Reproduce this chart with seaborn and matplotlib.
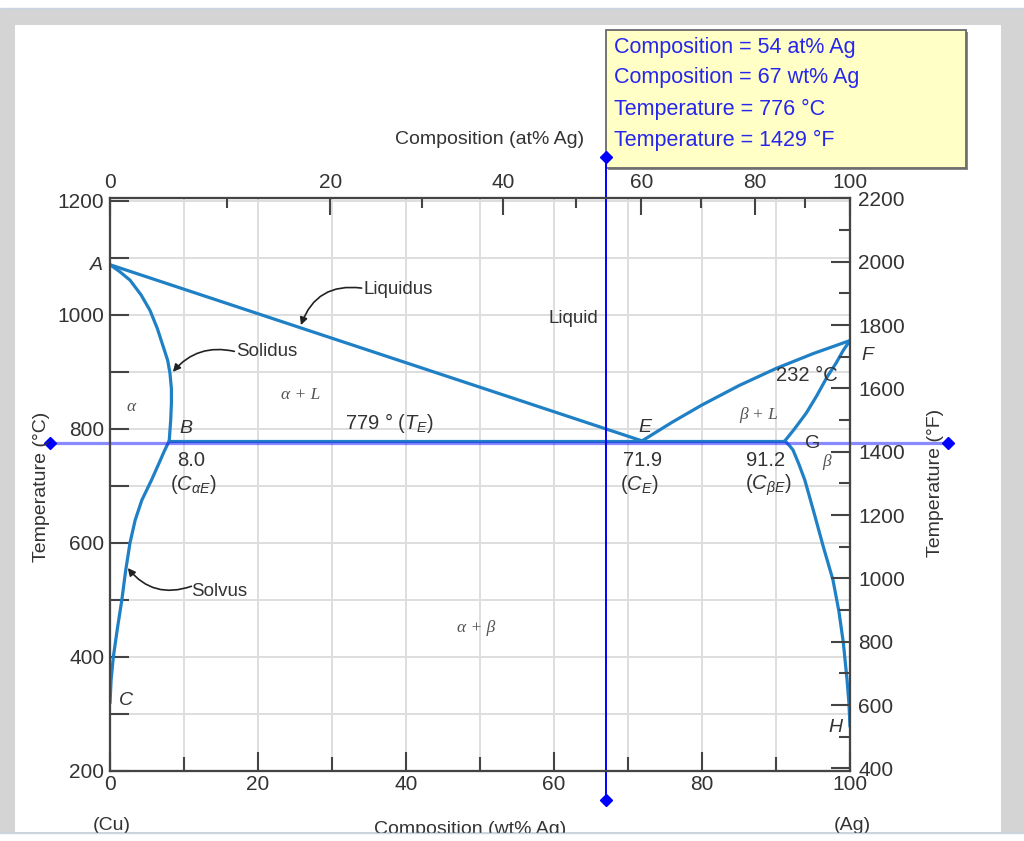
import matplotlib
matplotlib.use("Agg")
import matplotlib.pyplot as plt
import numpy as np
import seaborn as sns
from matplotlib.patches import Rectangle
from matplotlib.lines import Line2D

# ---------------- data (wt% Ag, temperature in °C) ----------------
liquidus_alpha_wt = [0.0, 71.9]
liquidus_alpha_T = [1088, 779]
liquidus_beta_wt = [71.9, 76.0, 80.0, 85.0, 90.0, 95.0, 100.0]
liquidus_beta_T = [779, 812, 842, 876, 906, 932, 955]
solidus_alpha_wt = [0.0, 1.3, 2.7, 4.2, 5.4, 6.4, 7.2, 7.8, 8.1, 8.3, 8.3, 8.2, 8.0]
solidus_alpha_T = [1088, 1076, 1061, 1035, 1008, 976, 944, 920, 898, 870, 845, 815, 779]
solvus_alpha_wt = [8.0, 7.3, 6.8, 5.6, 4.3, 3.4, 2.7, 2.1, 1.6, 1.0, 0.45, 0.15, 0.0]
solvus_alpha_T = [779, 760, 745, 710, 675, 640, 600, 550, 500, 450, 400, 360, 319]
solidus_beta_wt = [91.2, 92.5, 94.1, 95.5, 96.9, 98.1, 99.1, 100.0]
solidus_beta_T = [779, 800, 828, 858, 891, 915, 938, 955]
solvus_beta_wt = [91.2, 91.8, 92.3, 93.1, 93.9, 95.2, 96.4, 97.7, 98.5, 99.1, 99.6, 99.85, 100.0]
solvus_beta_T = [779, 771, 763, 738, 710, 650, 593, 535, 480, 425, 360, 320, 278]
eutectic_wt = [8.0, 91.2]
eutectic_T = [779, 779]

# cursor read-out
cursor_at = 54
cursor_wt = 67
cursor_TC = 776
cursor_TF = 1429

# tick labels
wt_major = [0, 20, 40, 60, 80, 100]
wt_minor = [10, 30, 50, 70, 90]
at_major = [0, 20, 40, 60, 80, 100]
at_minor = [10, 30, 50, 70, 90]
C_major = [200, 400, 600, 800, 1000, 1200]
C_minor = [300, 500, 700, 900, 1100]
F_major = [400, 600, 800, 1000, 1200, 1400, 1600, 1800, 2000, 2200]
F_minor = [500, 700, 900, 1100, 1300, 1500, 1700, 1900, 2100]

M_CU, M_AG = 63.55, 107.87


def at_to_wt(a):
    a = np.asarray(a, dtype=float)
    return 100 * a * M_AG / (a * M_AG + (100 - a) * M_CU)


# ---------------- style ----------------
W, H = 1024, 841
def fx(px): return px / W
def fy(py): return 1 - py / H

sns.set_theme(style="white")
plt.rcParams['font.family'] = ['Liberation Sans', 'DejaVu Sans']
plt.rcParams['mathtext.fontset'] = 'custom'
plt.rcParams['mathtext.rm'] = 'Liberation Sans'
plt.rcParams['mathtext.it'] = 'Liberation Sans:italic'

LINE = "#1f80c6"
TXT = "#333333"
AX = "#444444"
GREEK = dict(family=['Liberation Serif', 'DejaVu Serif'], style='italic', color='#555555', fontsize=12.5)

fig = plt.figure(figsize=(W / 100, H / 100), dpi=100, facecolor='#d4d4d4')
# page background
fig.add_artist(Rectangle((fx(15), fy(832)), fx(1001) - fx(15), fy(25) - fy(832),
                         transform=fig.transFigure, facecolor='white', edgecolor='none', zorder=-10))
fig.add_artist(Rectangle((0, fy(7.5)), 1, 7.5 / H, transform=fig.transFigure,
                         facecolor='white', edgecolor='none', zorder=-10))
fig.add_artist(Line2D([0, 1], [fy(7.5)] * 2, transform=fig.transFigure, color='#c8d6e4', lw=1, zorder=-9))
fig.add_artist(Rectangle((0, 0), 1, fy(832.5), transform=fig.transFigure,
                         facecolor='white', edgecolor='none', zorder=20))
fig.add_artist(Line2D([0, 1], [fy(832.5)] * 2, transform=fig.transFigure, color='#c8d6e4', lw=1, zorder=21))

# ---------------- main axes ----------------
ax = fig.add_axes([fx(110), fy(771), fx(850) - fx(110), fy(198) - fy(771)])
ax.set_facecolor('white')
T_lo, T_hi = 200, 1205

curves = [
    (liquidus_alpha_wt, liquidus_alpha_T),
    (liquidus_beta_wt, liquidus_beta_T),
    (solidus_alpha_wt, solidus_alpha_T),
    (solvus_alpha_wt, solvus_alpha_T),
    (solidus_beta_wt, solidus_beta_T),
    (solvus_beta_wt, solvus_beta_T),
    (eutectic_wt, eutectic_T),
]
for wts, Ts in curves:
    sns.lineplot(x=wts, y=Ts, ax=ax, sort=False, estimator=None, color=LINE,
                 linewidth=2.3, solid_capstyle='round', solid_joinstyle='round', zorder=4)

ax.set_xlim(0, 100)
ax.set_ylim(T_lo, T_hi)
ax.set_xlabel('')
ax.set_ylabel('')
ax.set_xticks(wt_major, labels=[str(v) for v in wt_major])
ax.set_xticks(wt_minor, minor=True)
ax.set_yticks(C_major, labels=[str(v) for v in C_major])
ax.set_yticks(C_minor, minor=True)
ax.grid(True, which='both', color='#dedede', lw=1.4)
ax.set_axisbelow(True)
ax.tick_params(axis='x', which='major', direction='in', length=14, width=1.5, color=AX,
               pad=3, labelsize=15, labelcolor=TXT, bottom=True, top=False)
ax.tick_params(axis='x', which='minor', direction='in', length=10, width=1.5, color=AX,
               bottom=True, top=False)
ax.tick_params(axis='y', which='both', direction='in', length=14, width=1.5, color=AX,
               pad=4, labelsize=15, labelcolor=TXT, left=True, right=False)
for sp in ax.spines.values():
    sp.set_color(AX)
    sp.set_linewidth(1.5)

# top axis: at% Ag
axt = ax.twiny()
axt.set_xlim(0, 100)
axt.set_xticks(at_to_wt(at_major), labels=[str(v) for v in at_major])
axt.set_xticks(at_to_wt(at_minor), minor=True)
axt.tick_params(axis='x', which='major', direction='in', length=12, width=1.5, color=AX,
                pad=4, labelsize=15, labelcolor=TXT, top=True, bottom=False)
axt.tick_params(axis='x', which='minor', direction='in', length=7.5, width=1.5, color=AX,
                top=True, bottom=False)
axt.grid(False)
for sp in axt.spines.values():
    sp.set_color(AX)
    sp.set_linewidth(1.5)

# right axis: °F
axr = ax.twinx()
axr.set_ylim(T_lo * 9 / 5 + 32, T_hi * 9 / 5 + 32)
axr.set_yticks(F_major, labels=[str(v) for v in F_major])
axr.set_yticks(F_minor, minor=True)
axr.tick_params(axis='y', which='major', direction='in', length=14, width=1.5, color=AX,
                pad=6, labelsize=15, labelcolor=TXT, right=True, left=False)
axr.tick_params(axis='y', which='minor', direction='in', length=8, width=1.5, color=AX,
                right=True, left=False)
axr.grid(False)
for sp in axr.spines.values():
    sp.set_color(AX)
    sp.set_linewidth(1.5)

# ---------------- cursor ----------------
def px_to_w(px): return (px - 110) / 7.4
def py_to_T(py): return T_lo + (771 - py) * (T_hi - T_lo) / (771 - 198)

v_top, v_bot = py_to_T(157), py_to_T(800)
h_left, h_right = px_to_w(50), px_to_w(948)
ax.plot([h_left, h_right], [cursor_TC, cursor_TC], color='#2a2aff', alpha=0.55, lw=2.3,
        clip_on=False, zorder=5)
ax.plot([h_left, h_right], [cursor_TC, cursor_TC], ls='none', marker='D', ms=6.5,
        color='#0000ff', clip_on=False, zorder=7)
ax.plot([cursor_wt, cursor_wt], [v_bot, v_top], color='#0000ff', lw=1.4, clip_on=False, zorder=6)
ax.plot([cursor_wt, cursor_wt], [v_bot, v_top], ls='none', marker='D', ms=6.5,
        color='#0000ff', clip_on=False, zorder=7)

# ---------------- annotations ----------------
pt = dict(color=TXT, fontsize=14, ha='center', va='center', style='italic', clip_on=False, zorder=8)
ax.text(-1.8, 1087, 'A', **pt)
ax.text(10.2, 800, 'B', **pt)
ax.text(2.1, 324, 'C', **pt)
ax.text(72.3, 803, 'E', **pt)
ax.text(102.4, 928, 'F', **pt)
ax.text(95.0, 774, 'G', color=TXT, fontsize=14, ha='center', va='center', zorder=8)
ax.text(98.0, 277, 'H', **pt)

ax.text(62.6, 994, 'Liquid', color=TXT, fontsize=13.5, ha='center', va='center')
ax.text(34.2, 1045, 'Liquidus', color=TXT, fontsize=13.5, ha='left', va='center')
ax.text(17.0, 935, 'Solidus', color=TXT, fontsize=13.5, ha='left', va='center')
ax.text(11.0, 515, 'Solvus', color=TXT, fontsize=13.5, ha='left', va='center')
arrow = dict(arrowstyle='-|>', color='#222222', lw=1.2, mutation_scale=11, shrinkA=0, shrinkB=0)
ax.annotate('', xy=(25.8, 982), xytext=(34.0, 1047),
            arrowprops=dict(connectionstyle='arc3,rad=0.4', **arrow))
ax.annotate('', xy=(8.5, 900), xytext=(16.8, 936),
            arrowprops=dict(connectionstyle='arc3,rad=0.3', **arrow))
ax.annotate('', xy=(2.4, 556), xytext=(11.0, 524),
            arrowprops=dict(connectionstyle='arc3,rad=-0.35', **arrow))

ax.text(2.8, 838, 'α', ha='center', va='center', **GREEK)
ax.text(25.7, 860, 'α + L', ha='center', va='center', **GREEK)
ax.text(87.6, 824, 'β + L', ha='center', va='center', **GREEK)
ax.text(96.8, 742, 'β', ha='center', va='center', **GREEK)
ax.text(49.5, 451, 'α + β', ha='center', va='center', **GREEK)

num = dict(color=TXT, fontsize=14.5, ha='center', va='center', zorder=8)
ax.text(37.8, 810, '779 ° ($T_E$)', **num)
ax.text(10.9, 745, f'{eutectic_wt[0]:.1f}', **num)
ax.text(11.3, 703, r'($C_{\alpha E}$)', **num)
ax.text(72.0, 745, f'{liquidus_alpha_wt[1]:.1f}', **num)
ax.text(71.5, 703, r'($C_E$)', **num)
ax.text(88.6, 745, f'{eutectic_wt[1]:.1f}', **num)
ax.text(89.0, 701, r'($C_{\beta E}$)', **num)
ax.text(94.2, 893, '232 °C', **num)

# ---------------- axis titles (figure level) ----------------
fig.text(fx(490), fy(140), 'Composition (at% Ag)', color=TXT, fontsize=14, ha='center', va='center')
fig.text(fx(470), fy(829), 'Composition (wt% Ag)', color=TXT, fontsize=14, ha='center', va='center')
fig.text(fx(112), fy(825), '(Cu)', color=TXT, fontsize=14, ha='center', va='center')
fig.text(fx(852), fy(825), '(Ag)', color=TXT, fontsize=14, ha='center', va='center')
fig.text(fx(42), fy(487), 'Temperature (°C)', color=TXT, fontsize=14, rotation=90,
         ha='center', va='center')
fig.text(fx(935), fy(483), 'Temperature (°F)', color=TXT, fontsize=14, rotation=90,
         ha='center', va='center')

# ---------------- tooltip box ----------------
fig.add_artist(Rectangle((fx(608), fy(170)), fx(968) - fx(608), fy(32) - fy(170),
                         transform=fig.transFigure, facecolor='#8a8a8a', edgecolor='none', zorder=-6))
fig.add_artist(Rectangle((fx(606), fy(168)), fx(966) - fx(606), fy(30) - fy(168),
                         transform=fig.transFigure, facecolor='#ffffc6', edgecolor='#6a6a6a',
                         lw=1.3, zorder=-5))
tip_lines = [f'Composition = {cursor_at} at% Ag',
             f'Composition = {cursor_wt} wt% Ag',
             f'Temperature = {cursor_TC} °C',
             f'Temperature = {cursor_TF} °F']
for i, s in enumerate(tip_lines):
    fig.text(fx(614), fy(47 + 31 * i), s, color='#2626ee', fontsize=15.5, ha='left', va='center')

fig.savefig('out.png', dpi=100, facecolor=fig.get_facecolor())
